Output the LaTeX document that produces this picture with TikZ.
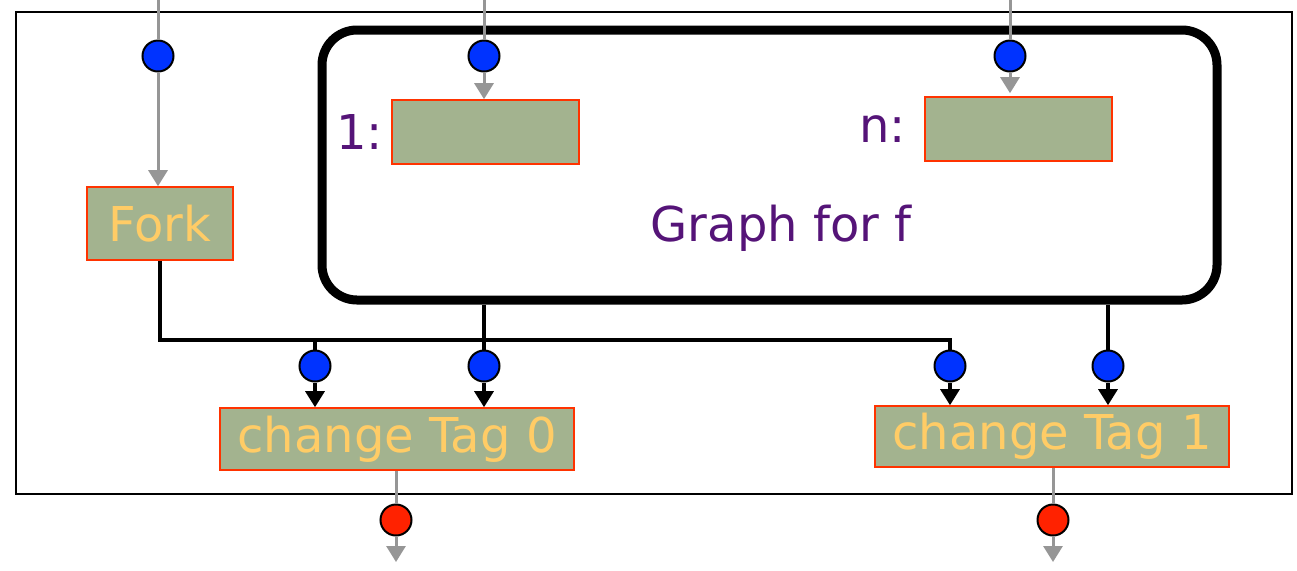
\documentclass[tikz,border=0pt]{standalone}
\usepackage{fontspec}
\setmainfont{DejaVu Sans}
\usetikzlibrary{arrows.meta,positioning}
\definecolor{boxfill}{RGB}{163,179,143}
\definecolor{boxline}{RGB}{255,51,0}
\definecolor{boxtext}{RGB}{255,204,102}
\definecolor{inblue}{RGB}{0,51,255}
\definecolor{outred}{RGB}{255,34,0}
\definecolor{labpurple}{RGB}{85,20,120}
\definecolor{wiregray}{RGB}{150,150,150}
\begin{document}
\begin{tikzpicture}[x=0.5pt,y=-0.5pt,
  op/.style={rectangle,draw=boxline,fill=boxfill,line width=0.8pt,text=boxtext,font=\fontsize{24}{26}\selectfont,inner sep=0pt},
  port/.style={circle,draw=black,line width=1pt,minimum size=15.5pt,inner sep=0pt},
  inport/.style={port,fill=inblue},
  outport/.style={port,fill=outred},
  gray wire/.style={draw=wiregray,line width=1.5pt},
  black wire/.style={draw=black,line width=1.6pt},
  tip/.style={-{Triangle[width=9.5pt,length=8pt]}},
  lbl/.style={text=labpurple,font=\fontsize{24}{26}\selectfont,inner sep=0pt}]
\useasboundingbox (0,0) rectangle (1297,570);
\node[draw,line width=1pt,minimum width=638pt,minimum height=241pt,inner sep=0pt] (frame) at (654,253) {};
\node[draw,line width=4.5pt,rounded corners=17.5pt,minimum width=447.5pt,minimum height=135pt,inner sep=0pt] (graph) at (769.5,165) {};
\node[lbl] (glabel) at (781,228) {Graph for f};
\node[op,minimum width=73pt,minimum height=36.5pt] (fork) at (160,223.5) {Fork};
\node[op,minimum width=93.5pt,minimum height=32pt] (b1) at (485.5,132) {};
\node[op,minimum width=93.5pt,minimum height=32pt] (bn) at (1018.5,129) {};
\node[lbl,left=4pt of b1] (l1) {1:};
\node[lbl,left=9pt of bn] (ln) {n:};
\node[op,minimum width=177pt,minimum height=31pt] (tag0) at (397,439) {change Tag 0};
\node[op,minimum width=177pt,minimum height=30.5pt] (tag1) at (1052,436.5) {change Tag 1};
\node[inport] (i0) at (158,56) {};
\node[inport] (i1) at (484,56) {};
\node[inport] (in) at (1010,56) {};
\node[inport] (p0) at (315,366) {};
\node[inport] (p1) at (484,366) {};
\node[inport] (p2) at (950,366) {};
\node[inport] (p3) at (1108,366) {};
\node[outport] (o0) at (396,520) {};
\node[outport] (o1) at (1053,520) {};
\coordinate (t0) at (158,0);
\coordinate (t1) at (484,0);
\coordinate (tn) at (1010,0);
\coordinate (bus) at (950,340);
\coordinate (e0) at (396,562);
\coordinate (e1) at (1053,562);
\draw[gray wire] (t0) -- (i0);
\draw[gray wire] (t1) -- (i1);
\draw[gray wire] (tn) -- (in);
\draw[gray wire,tip] (i0) -- (i0 |- fork.north);
\draw[gray wire,tip] (i1) -- (i1 |- b1.north);
\draw[gray wire,tip] (in) -- ([yshift=1.5pt]in |- bn.north);
\draw[black wire] (fork.south) |- (bus) -- (p2);
\draw[black wire] (p0 |- bus) -- (p0);
\draw[black wire] (p1 |- graph.south) -- (p1);
\draw[black wire] (p3 |- graph.south) -- (p3);
\draw[black wire,tip] (p0) -- (p0 |- tag0.north);
\draw[black wire,tip] (p1) -- (p1 |- tag0.north);
\draw[black wire,tip] (p2) -- (p2 |- tag1.north);
\draw[black wire,tip] (p3) -- (p3 |- tag1.north);
\draw[gray wire] (o0 |- tag0.south) -- (o0);
\draw[gray wire] (o1 |- tag1.south) -- (o1);
\draw[gray wire,tip] (o0) -- (e0);
\draw[gray wire,tip] (o1) -- (e1);
\end{tikzpicture}
\end{document}
